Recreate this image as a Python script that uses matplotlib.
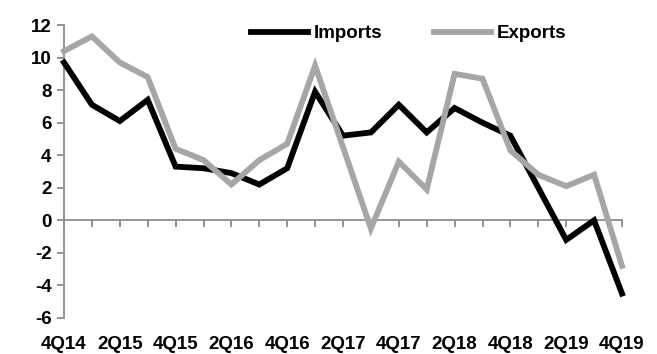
import matplotlib
matplotlib.use("Agg")
import matplotlib.pyplot as plt
from matplotlib.ticker import MultipleLocator

plt.rcParams['font.family'] = ['Liberation Sans Narrow', 'Liberation Sans', 'DejaVu Sans']
plt.rcParams['font.weight'] = 'bold'
plt.rcParams['axes.unicode_minus'] = False

# quarterly y/y growth, 4Q14 .. 4Q19
quarters = ['4Q14', '1Q15', '2Q15', '3Q15', '4Q15', '1Q16', '2Q16', '3Q16', '4Q16',
            '1Q17', '2Q17', '3Q17', '4Q17', '1Q18', '2Q18', '3Q18', '4Q18',
            '1Q19', '2Q19', '3Q19', '4Q19']
imports = [9.7, 7.1, 6.1, 7.4, 3.3, 3.2, 2.9, 2.2, 3.2,
           7.9, 5.2, 5.4, 7.1, 5.4, 6.9, 6.0, 5.2,
           2.0, -1.2, 0.0, -4.5]
exports = [10.4, 11.3, 9.7, 8.8, 4.4, 3.7, 2.2, 3.7, 4.7,
           9.5, 4.5, -0.5, 3.6, 1.9, 9.0, 8.7, 4.3,
           2.8, 2.1, 2.8, -2.8]

axis_grey = '#8c8c8c'
fs = 13.5

fig = plt.figure(figsize=(6.57, 3.54), dpi=100)
ax = fig.add_axes([64 / 657, 36 / 354, 558 / 657, 293 / 354])

x = list(range(len(quarters)))
ax.plot(x, imports, color='black', lw=4.2, label='Imports',
        solid_joinstyle='miter', clip_on=False, zorder=3)
ax.plot(x, exports, color='#a6a6a6', lw=4.2, label='Exports',
        solid_joinstyle='miter', clip_on=False, zorder=4)

ax.set_xlim(0, len(quarters) - 1)
ax.set_ylim(-6, 12)
ax.yaxis.set_major_locator(MultipleLocator(2))

for side in ('top', 'right'):
    ax.spines[side].set_visible(False)
ax.spines['left'].set_color(axis_grey)
ax.spines['left'].set_linewidth(1.3)
# category axis crosses at zero
ax.spines['bottom'].set_position(('data', 0))
ax.spines['bottom'].set_color(axis_grey)
ax.spines['bottom'].set_linewidth(1.3)

ax.set_xticks(x)
ax.tick_params(axis='x', direction='out', length=5, width=1.3, color=axis_grey,
               labelbottom=False)
ax.tick_params(axis='y', direction='out', length=5, width=1.3, color=axis_grey,
               labelsize=fs, pad=4)

# quarter labels sit below the plot area
sec = ax.secondary_xaxis('bottom')
sec.spines['bottom'].set_visible(False)
sec.set_xticks(x[::2], quarters[::2])
sec.tick_params(axis='x', length=0, labelsize=fs, pad=13)

ax.legend(ncol=2, frameon=False, loc='center left', bbox_to_anchor=(0.336, 0.97),
          borderpad=0, borderaxespad=0, handlelength=3.0, handletextpad=0.3,
          columnspacing=2.8, prop={'size': fs, 'weight': 'bold'})

fig.savefig('out.png', dpi=100)
